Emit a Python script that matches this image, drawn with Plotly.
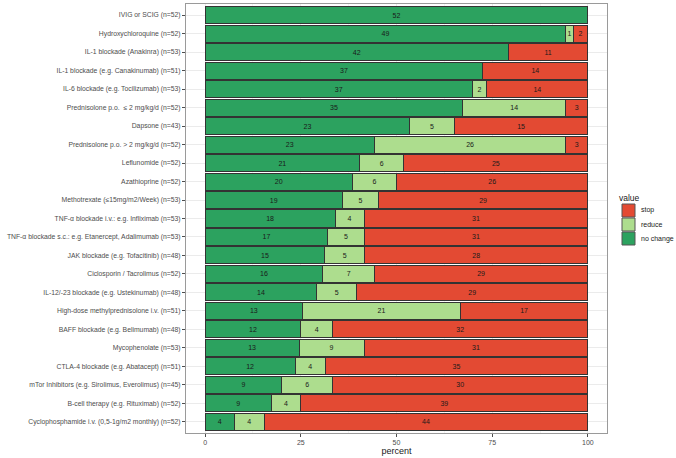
import plotly.graph_objects as go

categories = [
    "IVIG or SCIG (n=52)",
    "Hydroxychloroquine (n=52)",
    "IL-1 blockade (Anakinra) (n=53)",
    "IL-1 blockade (e.g. Canakinumab) (n=51)",
    "IL-6 blockade (e.g. Tocilizumab) (n=53)",
    "Prednisolone p.o.  ≤ 2 mg/kg/d (n=52)",
    "Dapsone (n=43)",
    "Prednisolone p.o. > 2 mg/kg/d (n=52)",
    "Leflunomide (n=52)",
    "Azathioprine (n=52)",
    "Methotrexate (≤15mg/m2/Week) (n=53)",
    "TNF-α blockade i.v.: e.g. Infliximab (n=53)",
    "TNF-α blockade s.c.: e.g. Etanercept, Adalimumab (n=53)",
    "JAK blockade (e.g. Tofacitinib) (n=48)",
    "Ciclosporin / Tacrolimus (n=52)",
    "IL-12/-23 blockade (e.g. Ustekinumab) (n=48)",
    "High-dose methylprednisolone i.v. (n=51)",
    "BAFF blockade (e.g. Belimumab) (n=48)",
    "Mycophenolate (n=53)",
    "CTLA-4 blockade (e.g. Abatacept) (n=51)",
    "mTor Inhibitors (e.g. Sirolimus, Everolimus) (n=45)",
    "B-cell therapy (e.g. Rituximab) (n=52)",
    "Cyclophosphamide i.v. (0,5-1g/m2 monthly) (n=52)",
]
no_change = [52, 49, 42, 37, 37, 35, 23, 23, 21, 20, 19, 18, 17, 15, 16, 14, 13, 12, 13, 12, 9, 9, 4]
reduce_ = [0, 1, 0, 0, 2, 14, 5, 26, 6, 6, 5, 4, 5, 5, 7, 5, 21, 4, 9, 4, 6, 4, 4]
stop = [0, 2, 11, 14, 14, 3, 15, 3, 25, 26, 29, 31, 31, 28, 29, 29, 17, 32, 31, 35, 30, 39, 44]
x_ticks = [0, 25, 50, 75, 100]

totals = [a + b + c for a, b, c in zip(no_change, reduce_, stop)]

series = [
    ("no change", no_change, "#2ca25f"),
    ("reduce", reduce_, "#addd8e"),
    ("stop", stop, "#e34a33"),
]

W, H = 676, 458
ML, MR, MT, MB = 186, 69, 4, 25
PW, PH = W - ML - MR, H - MT - MB
FONT = "Liberation Sans, Arial, sans-serif"


def px_x(px):
    return (px - ML) / PW


def px_y(py):
    return (H - MB - py) / PH


fig = go.Figure()
for name, vals, color in series:
    xs = [v / t * 100 for v, t in zip(vals, totals)]
    txt = [str(v) if v > 0 else "" for v in vals]
    fig.add_trace(go.Bar(
        y=categories, x=xs, name=name, orientation="h",
        marker=dict(color=color, line=dict(color="#333333", width=1)),
        text=txt, textposition="inside", insidetextanchor="middle",
        textfont=dict(size=7, color="#1a1a1a", family=FONT),
        constraintext="none",
        hoverinfo="skip", showlegend=False,
    ))

# legend (ggplot style), drawn in reverse stacking order
shapes = []
annotations = [dict(
    text="value", xref="paper", yref="paper", x=px_x(617), y=px_y(198),
    xanchor="left", yanchor="middle", showarrow=False,
    font=dict(size=8.5, color="#1a1a1a", family=FONT),
)]
for i, (name, vals, color) in enumerate(reversed(series)):
    top = 204 + i * 14
    shapes.append(dict(
        type="rect", xref="paper", yref="paper",
        x0=px_x(622), x1=px_x(635), y0=px_y(top), y1=px_y(top + 13),
        fillcolor=color, line=dict(color="#555555", width=1),
    ))
    annotations.append(dict(
        text=name, xref="paper", yref="paper", x=px_x(639), y=px_y(top + 6.5),
        xanchor="left", yanchor="middle", showarrow=False,
        font=dict(size=7, color="#1a1a1a", family=FONT),
    ))

fig.update_layout(
    barmode="stack",
    bargap=0.08,
    width=W, height=H,
    margin=dict(l=ML, r=MR, t=MT, b=MB, autoexpand=False),
    plot_bgcolor="white", paper_bgcolor="white",
    font=dict(family=FONT, size=8, color="#4d4d4d"),
    showlegend=False,
    shapes=shapes, annotations=annotations,
)
fig.update_xaxes(
    range=[-5, 105], tickvals=x_ticks, automargin=False,
    showgrid=True, gridcolor="#ebebeb", gridwidth=1,
    minor=dict(tickvals=[12.5, 37.5, 62.5, 87.5], showgrid=True, gridcolor="#f4f4f4", gridwidth=0.5),
    zeroline=False, showline=True, mirror=True, linecolor="#9a9a9a", linewidth=1,
    ticks="outside", ticklen=3, tickcolor="#4d4d4d",
    tickfont=dict(size=7, color="#4d4d4d"),
    title=dict(text="percent", font=dict(size=9, color="#1a1a1a"), standoff=1),
)
fig.update_yaxes(
    categoryorder="array", categoryarray=categories, automargin=False,
    range=[len(categories) - 0.4, -0.6],
    showgrid=True, gridcolor="#ebebeb", gridwidth=1,
    zeroline=False, showline=True, mirror=True, linecolor="#9a9a9a", linewidth=1,
    ticks="outside", ticklen=3, tickcolor="#4d4d4d",
    tickfont=dict(size=6.8, color="#4d4d4d"),
)

fig.write_html(
    "out.html",
    config={"displayModeBar": False},
    post_script="document.body.style.margin='0';document.body.style.overflow='hidden';",
)
